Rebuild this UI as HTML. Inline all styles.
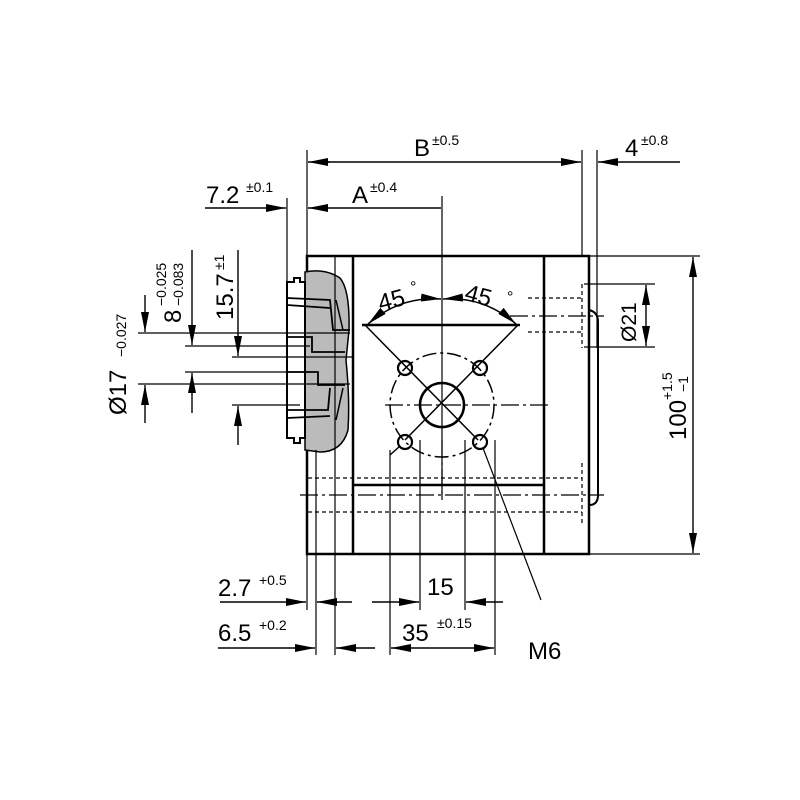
<!DOCTYPE html>
<html><head><meta charset="utf-8"><style>
html,body{margin:0;padding:0;background:#fff}
svg{display:block}
text{font-family:"Liberation Sans",Arial,sans-serif;fill:#000}
</style></head><body>
<svg width="800" height="800" viewBox="0 0 800 800" xmlns="http://www.w3.org/2000/svg">
<defs>
<marker id="a" viewBox="0 0 20 8" refX="20" refY="4" markerWidth="20" markerHeight="8" markerUnits="userSpaceOnUse" orient="auto"><path d="M0,0L20,4L0,8z" fill="#000"/></marker>
<marker id="b" viewBox="0 0 20 8" refX="0" refY="4" markerWidth="20" markerHeight="8" markerUnits="userSpaceOnUse" orient="auto"><path d="M20,0L0,4L20,8z" fill="#000"/></marker>
</defs>
<rect width="800" height="800" fill="#fff"/>
<g stroke="#000" fill="none">
<rect x="307" y="256" width="282" height="298" stroke-width="2.5"/>
<line x1="353" y1="256" x2="353" y2="554" stroke-width="2.5"/>
<line x1="544" y1="256" x2="544" y2="554" stroke-width="2.5"/>
<line x1="353" y1="485" x2="544" y2="485" stroke-width="2.5"/>
<line x1="362" y1="325" x2="520" y2="325" stroke-width="2.5"/>
<path d="M589,310 Q598,312 598,322 L598,495 Q598,505 589,505" stroke-width="2"/>
<g stroke-width="1.2" stroke-dasharray="4,3">
<line x1="528" y1="298" x2="582" y2="298"/><line x1="528" y1="332" x2="582" y2="332"/>
<line x1="308" y1="478" x2="582" y2="478"/><line x1="308" y1="512" x2="582" y2="512"/>
<line x1="582" y1="284" x2="582" y2="348"/><line x1="582" y1="463" x2="582" y2="525"/>
</g>
<g stroke-width="1.2" stroke-dasharray="18,4,3,4">
<line x1="510" y1="316" x2="604" y2="316"/>
<line x1="300" y1="495" x2="604" y2="495"/>
<line x1="385" y1="405" x2="550" y2="405"/>
<line x1="442" y1="440" x2="442" y2="495"/>
</g>
<circle cx="442" cy="405" r="52" stroke-width="1.5" stroke-dasharray="14,4,3,4"/>
<circle cx="442" cy="405" r="22" stroke-width="2.5"/>
<line x1="365" y1="325" x2="478" y2="440" stroke-width="1.5"/>
<line x1="518" y1="325" x2="405" y2="440" stroke-width="1.5"/>
<line x1="390" y1="455" x2="400" y2="446" stroke-width="1.5"/>
<g stroke-width="2.2">
<circle cx="405" cy="368" r="7"/><circle cx="480" cy="368" r="7"/>
<circle cx="405" cy="442" r="7"/><circle cx="480" cy="442" r="7"/>
</g>
<line x1="442" y1="196" x2="442" y2="500" stroke-width="1.2"/>
<path d="M368,324 Q400,296 441,299" stroke-width="1.5" marker-start="url(#b)" marker-end="url(#a)"/>
<path d="M516,324 Q484,296 443,299" stroke-width="1.5" marker-start="url(#b)" marker-end="url(#a)"/>
<path d="M305,272 Q325,268 340,278 Q350,290 349,330 L346,360 Q350,400 348,430 Q342,452 320,452 L305,450 Z" fill="#bbb" stroke-width="1.5"/>
<path d="M287,282 L294,282 L294,278 L300,278 L300,282 L305,282 L305,438 L300,438 L300,443 L294,443 L294,438 L287,438 Z" fill="#fff" stroke-width="2"/>
<path d="M287,298 L330,300 L333,330 L350,330 M287,305 L330,308 M287,337 L312,337 L312,352 L345,352 M287,372 L318,372 L318,385 L345,385 M287,410 L328,410 L330,388 M287,418 L330,416" stroke-width="1.8"/>
<path d="M336,300 L343,330 M336,420 L343,388" stroke-width="1.5"/>
<g stroke-width="1.2">
<line x1="307" y1="150" x2="307" y2="256"/><line x1="582" y1="150" x2="582" y2="256"/>
<line x1="597" y1="150" x2="597" y2="348"/>
<line x1="287" y1="198" x2="287" y2="282"/>
<line x1="589" y1="256" x2="700" y2="256"/><line x1="589" y1="554" x2="700" y2="554"/>
<line x1="584" y1="284" x2="655" y2="284"/><line x1="584" y1="347" x2="655" y2="347"/>
<line x1="138" y1="333" x2="350" y2="333"/><line x1="138" y1="384" x2="350" y2="384"/>
<line x1="185" y1="346" x2="310" y2="346"/><line x1="185" y1="372" x2="310" y2="372"/>
<line x1="232" y1="357" x2="353" y2="357"/><line x1="232" y1="405" x2="300" y2="405"/>
<line x1="307" y1="554" x2="307" y2="610"/><line x1="316" y1="450" x2="316" y2="655"/>
<line x1="335" y1="256" x2="335" y2="655"/>
<line x1="390" y1="450" x2="390" y2="655"/><line x1="420" y1="440" x2="420" y2="610"/>
<line x1="465" y1="440" x2="465" y2="610"/><line x1="495" y1="440" x2="495" y2="655"/>
<line x1="483" y1="448" x2="541" y2="600"/>
</g>
<g stroke-width="1.4">
<line x1="330" y1="162" x2="308" y2="162" marker-end="url(#a)"/>
<line x1="560" y1="162" x2="581" y2="162" marker-end="url(#a)"/>
<line x1="325" y1="162" x2="560" y2="162"/>
<line x1="620" y1="162" x2="598" y2="162" marker-end="url(#a)"/><line x1="620" y1="162" x2="680" y2="162"/>
<line x1="330" y1="208" x2="308" y2="208" marker-end="url(#a)"/><line x1="330" y1="208" x2="441" y2="208"/>
<line x1="205" y1="208" x2="286" y2="208" marker-end="url(#a)"/>
<line x1="693" y1="290" x2="693" y2="257" marker-end="url(#a)"/><line x1="693" y1="520" x2="693" y2="553" marker-end="url(#a)"/><line x1="693" y1="290" x2="693" y2="520"/>
<line x1="646" y1="315" x2="646" y2="285" marker-end="url(#a)"/><line x1="646" y1="315" x2="646" y2="346" marker-end="url(#a)"/>
<line x1="145" y1="295" x2="145" y2="332" marker-end="url(#a)"/><line x1="145" y1="423" x2="145" y2="385" marker-end="url(#a)"/>
<line x1="192" y1="250" x2="192" y2="345" marker-end="url(#a)"/><line x1="192" y1="413" x2="192" y2="373" marker-end="url(#a)"/>
<line x1="238" y1="250" x2="238" y2="356" marker-end="url(#a)"/><line x1="238" y1="445" x2="238" y2="406" marker-end="url(#a)"/>
<line x1="220" y1="602" x2="306" y2="602" marker-end="url(#a)"/><line x1="352" y1="602" x2="317" y2="602" marker-end="url(#a)"/>
<line x1="372" y1="602" x2="419" y2="602" marker-end="url(#a)"/><line x1="503" y1="602" x2="466" y2="602" marker-end="url(#a)"/>
<line x1="218" y1="648" x2="315" y2="648" marker-end="url(#a)"/><line x1="375" y1="648" x2="336" y2="648" marker-end="url(#a)"/>
<line x1="442" y1="648" x2="391" y2="648" marker-end="url(#a)"/><line x1="442" y1="648" x2="494" y2="648" marker-end="url(#a)"/>
</g>
</g>
<text x="414" y="156" font-size="24">B</text><text x="432" y="145" font-size="14">±0.5</text>
<text x="625" y="156" font-size="24">4</text><text x="641" y="145" font-size="14">±0.8</text>
<text x="352" y="203" font-size="24">A</text><text x="370" y="192" font-size="14">±0.4</text>
<text x="206" y="203" font-size="24">7.2</text><text x="246" y="192" font-size="14">±0.1</text>
<text x="378" y="308" font-size="24" transform="rotate(-15 392 300)">45</text><text x="410" y="292" font-size="16">°</text>
<text x="465" y="304" font-size="24" transform="rotate(15 480 296)">45</text><text x="507" y="302" font-size="16">°</text>
<text x="218" y="596" font-size="24">2.7</text><text x="259" y="585" font-size="14">+0.5</text>
<text x="218" y="641" font-size="24">6.5</text><text x="259" y="630" font-size="14">+0.2</text>
<text x="427" y="595" font-size="24">15</text>
<text x="402" y="641" font-size="24">35</text><text x="437" y="628" font-size="14">±0.15</text>
<text x="528" y="659" font-size="24">M6</text>
<text transform="translate(636,342) rotate(-90)" font-size="21">Ø21</text>
<text transform="translate(686,440) rotate(-90)" font-size="24">100</text>
<text transform="translate(672,400) rotate(-90)" font-size="14">+1.5</text>
<text transform="translate(688,392) rotate(-90)" font-size="14">−1</text>
<text transform="translate(126,415) rotate(-90)" font-size="24">Ø17</text>
<text transform="translate(126,357) rotate(-90)" font-size="14">−0.027</text>
<text transform="translate(181,323) rotate(-90)" font-size="24">8</text>
<text transform="translate(166,306) rotate(-90)" font-size="14">−0.025</text>
<text transform="translate(183,306) rotate(-90)" font-size="14">−0.083</text>
<text transform="translate(233,320) rotate(-90)" font-size="24">15.7</text>
<text transform="translate(224,270) rotate(-90)" font-size="14">±1</text>
</svg>
</body></html>
